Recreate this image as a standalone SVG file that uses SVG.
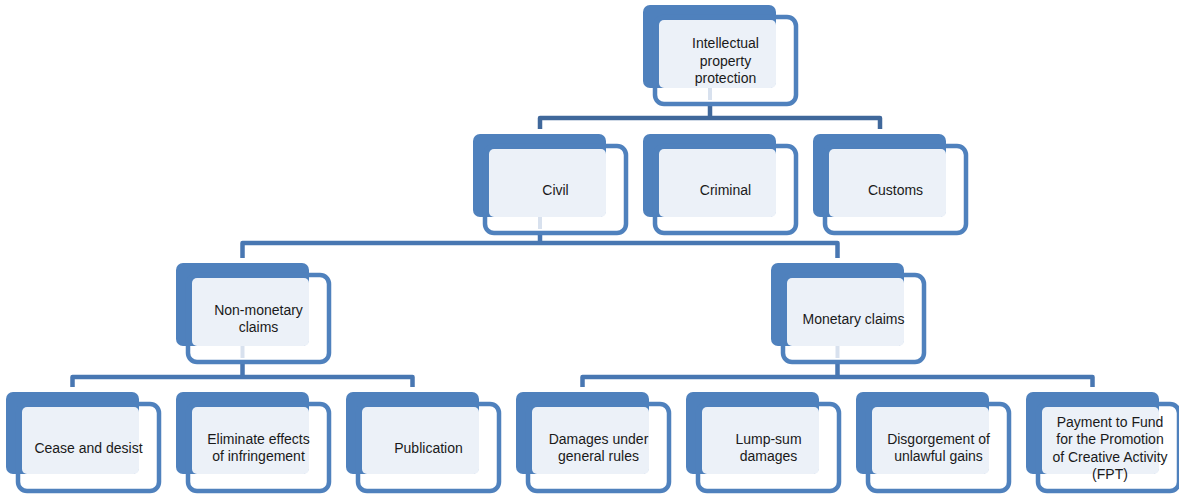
<svg xmlns="http://www.w3.org/2000/svg" width="1179" height="495" viewBox="0 0 1179 495">
<style>
.back{fill:#4F81BD}
.light{fill:#ECF1F8}
.frame{fill:none;stroke:#4F81BD;stroke-width:4.5}
.t{font-family:"Liberation Sans",Arial,sans-serif;font-size:14px;fill:#1a1a1a;text-anchor:middle}
.c1{fill:none;stroke:#40689B;stroke-width:4.5;stroke-linejoin:round}
.c2{fill:none;stroke:#4877B2;stroke-width:4.5;stroke-linejoin:round}
.f{fill:none;stroke:#D8E1EE;stroke-width:4}
</style>
<rect width="1179" height="495" fill="#ffffff"/>
<g id="connectors">
  <path class="f" d="M710 88 V100"/>
  <path class="c1" d="M710 104 V118 M540 129 V118 H880 V129"/>
  <path class="f" d="M540 217 V229"/>
  <path class="c2" d="M540 233 V243 M242.5 258 V243 H837.5 V258"/>
  <path class="f" d="M242.5 346 V358"/>
  <path class="c2" d="M242.5 362 V377 M72.5 387 V377 H412.5 V387"/>
  <path class="f" d="M837.5 346 V358"/>
  <path class="c2" d="M837.5 362 V377 M582.5 387 V377 H1092.5 V387"/>
</g>
<g id="n-ip" transform="translate(643,5)">
  <rect class="back" width="133" height="83" rx="7"/>
  <rect class="light" x="16" y="15" width="117" height="68" rx="5"/>
  <rect class="frame" x="12" y="12" width="141" height="87" rx="9"/>
  <text class="t" x="82.5" y="43.4">Intellectual</text>
  <text class="t" x="82.5" y="60.9">property</text>
  <text class="t" x="82.5" y="78.4">protection</text>
</g>
<g id="n-civil" transform="translate(473,134)">
  <rect class="back" width="133" height="83" rx="7"/>
  <rect class="light" x="16" y="15" width="117" height="68" rx="5"/>
  <rect class="frame" x="12" y="12" width="141" height="87" rx="9"/>
  <text class="t" x="82.5" y="60.7">Civil</text>
</g>
<g id="n-criminal" transform="translate(643,134)">
  <rect class="back" width="133" height="83" rx="7"/>
  <rect class="light" x="16" y="15" width="117" height="68" rx="5"/>
  <rect class="frame" x="12" y="12" width="141" height="87" rx="9"/>
  <text class="t" x="82.5" y="60.7">Criminal</text>
</g>
<g id="n-customs" transform="translate(813,134)">
  <rect class="back" width="133" height="83" rx="7"/>
  <rect class="light" x="16" y="15" width="117" height="68" rx="5"/>
  <rect class="frame" x="12" y="12" width="141" height="87" rx="9"/>
  <text class="t" x="82.5" y="60.7">Customs</text>
</g>
<g id="n-nonmonetary" transform="translate(176,263)">
  <rect class="back" width="133" height="83" rx="7"/>
  <rect class="light" x="16" y="15" width="117" height="68" rx="5"/>
  <rect class="frame" x="12" y="12" width="141" height="87" rx="9"/>
  <text class="t" x="82.5" y="51.9">Non-monetary</text>
  <text class="t" x="82.5" y="69.4">claims</text>
</g>
<g id="n-monetary" transform="translate(771,263)">
  <rect class="back" width="133" height="83" rx="7"/>
  <rect class="light" x="16" y="15" width="117" height="68" rx="5"/>
  <rect class="frame" x="12" y="12" width="141" height="87" rx="9"/>
  <text class="t" x="82.5" y="60.7">Monetary claims</text>
</g>
<g id="n-cease" transform="translate(6,392)">
  <rect class="back" width="133" height="82" rx="7"/>
  <rect class="light" x="16" y="15" width="117" height="67" rx="5"/>
  <rect class="frame" x="12" y="12" width="141" height="87" rx="9"/>
  <text class="t" x="82.5" y="60.7">Cease and desist</text>
</g>
<g id="n-eliminate" transform="translate(176,392)">
  <rect class="back" width="133" height="82" rx="7"/>
  <rect class="light" x="16" y="15" width="117" height="67" rx="5"/>
  <rect class="frame" x="12" y="12" width="141" height="87" rx="9"/>
  <text class="t" x="82.5" y="51.9">Eliminate effects</text>
  <text class="t" x="82.5" y="69.4">of infringement</text>
</g>
<g id="n-publication" transform="translate(346,392)">
  <rect class="back" width="133" height="82" rx="7"/>
  <rect class="light" x="16" y="15" width="117" height="67" rx="5"/>
  <rect class="frame" x="12" y="12" width="141" height="87" rx="9"/>
  <text class="t" x="82.5" y="60.7">Publication</text>
</g>
<g id="n-damages" transform="translate(516,392)">
  <rect class="back" width="133" height="82" rx="7"/>
  <rect class="light" x="16" y="15" width="117" height="67" rx="5"/>
  <rect class="frame" x="12" y="12" width="141" height="87" rx="9"/>
  <text class="t" x="82.5" y="51.9">Damages under</text>
  <text class="t" x="82.5" y="69.4">general rules</text>
</g>
<g id="n-lumpsum" transform="translate(686,392)">
  <rect class="back" width="133" height="82" rx="7"/>
  <rect class="light" x="16" y="15" width="117" height="67" rx="5"/>
  <rect class="frame" x="12" y="12" width="141" height="87" rx="9"/>
  <text class="t" x="82.5" y="51.9">Lump-sum</text>
  <text class="t" x="82.5" y="69.4">damages</text>
</g>
<g id="n-disgorgement" transform="translate(856,392)">
  <rect class="back" width="133" height="82" rx="7"/>
  <rect class="light" x="16" y="15" width="117" height="67" rx="5"/>
  <rect class="frame" x="12" y="12" width="141" height="87" rx="9"/>
  <text class="t" x="82.5" y="51.9">Disgorgement of</text>
  <text class="t" x="82.5" y="69.4">unlawful gains</text>
</g>
<g id="n-fpt" transform="translate(1026,392)">
  <rect class="back" width="133" height="82" rx="7"/>
  <rect class="light" x="16" y="15" width="117" height="67" rx="5"/>
  <rect class="frame" x="12" y="12" width="141" height="87" rx="9"/>
  <text class="t" x="84" y="34.5">Payment to Fund</text>
  <text class="t" x="84" y="52">for the Promotion</text>
  <text class="t" x="84" y="69.5">of Creative Activity</text>
  <text class="t" x="84" y="87">(FPT)</text>
</g>
</svg>
